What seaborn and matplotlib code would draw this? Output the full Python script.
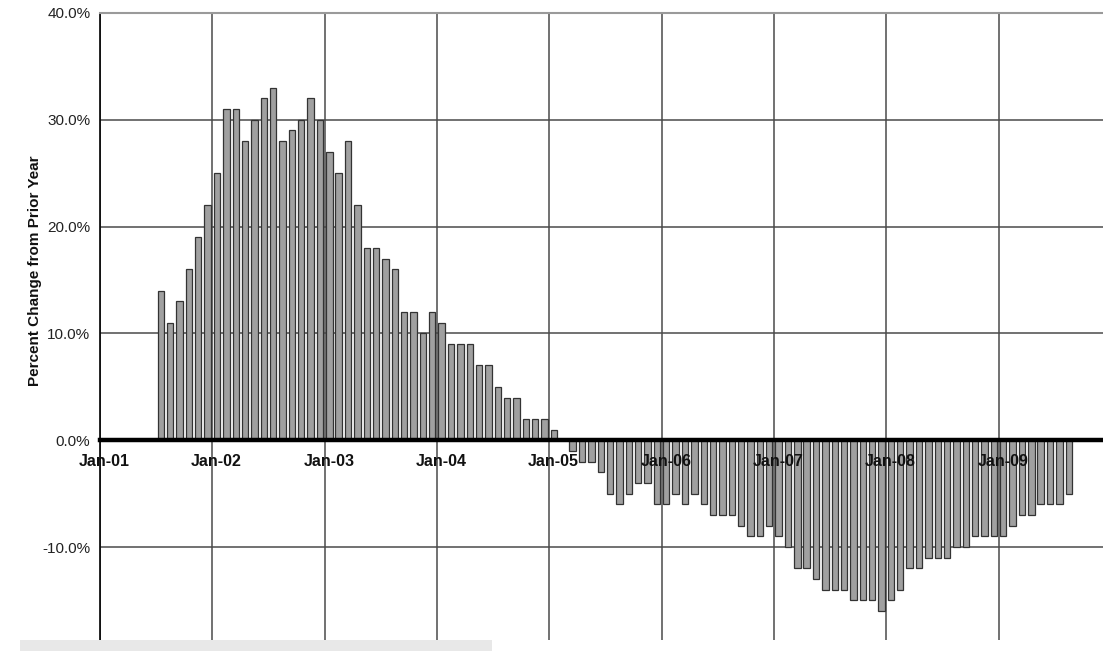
import numpy as np
import pandas as pd
import matplotlib
matplotlib.use('Agg')
import matplotlib.pyplot as plt
import matplotlib.patches as mpatches
from matplotlib.ticker import FuncFormatter
import seaborn as sns

# monthly data, Jul-01 .. Aug-09
start_month = '2001-07-01'
end_month = '2009-08-01'
pct_2001 = [14, 11, 13, 16, 19, 22]
pct_2002 = [25, 31, 31, 28, 30, 32, 33, 28, 29, 30, 32, 30]
pct_2003 = [27, 25, 28, 22, 18, 18, 17, 16, 12, 12, 10, 12]
pct_2004 = [11, 9, 9, 9, 7, 7, 5, 4, 4, 2, 2, 2]
pct_2005 = [1, 0, -1, -2, -2, -3, -5, -6, -5, -4, -4, -6]
pct_2006 = [-6, -5, -6, -5, -6, -7, -7, -7, -8, -9, -9, -8]
pct_2007 = [-9, -10, -12, -12, -13, -14, -14, -14, -15, -15, -15, -16]
pct_2008 = [-15, -14, -12, -12, -11, -11, -11, -10, -10, -9, -9, -9]
pct_2009 = [-9, -8, -7, -7, -6, -6, -6, -5]

year_labels = ['Jan-01', 'Jan-02', 'Jan-03', 'Jan-04', 'Jan-05',
               'Jan-06', 'Jan-07', 'Jan-08', 'Jan-09']
y_ticks = [-10, 0, 10, 20, 30, 40]

pct = (pct_2001 + pct_2002 + pct_2003 + pct_2004 + pct_2005 +
       pct_2006 + pct_2007 + pct_2008 + pct_2009)
months = pd.date_range(start_month, end_month, freq='MS')
df = pd.DataFrame({'month': months, 'pct': pct})
# months since Jan-01, bar sits in the middle of its month
df['pos'] = (df['month'].dt.year - 2001) * 12 + df['month'].dt.month - 1 + 0.5
year_pos = [12 * i for i in range(len(year_labels))]

sns.set_style('white')
plt.rcParams['font.family'] = ['Liberation Sans', 'DejaVu Sans']

W, H = 1103, 651
fig = plt.figure(figsize=(W / 100, H / 100), dpi=100)
ax = fig.add_axes([100 / W, (H - 640) / H, 1 - 100 / W, (640 - 13) / H])

sns.barplot(data=df, x='pos', y='pct', native_scale=True, width=0.68,
            color='#a0a0a0', saturation=1, edgecolor='#333333', linewidth=0.9,
            errorbar=None, ax=ax, zorder=3)

# category axis crosses at zero
ax.spines['bottom'].set_position(('data', 0))
ax.spines['bottom'].set_linewidth(3.2)
ax.spines['bottom'].set_color('black')
ax.spines['bottom'].set_zorder(5)
ax.spines['left'].set_color('black')
ax.spines['left'].set_linewidth(1.2)
ax.spines['top'].set_color('#9a9a9a')
ax.spines['top'].set_linewidth(1.5)
ax.spines['right'].set_visible(False)

ax.set_xlim(0, (W - 100) / 9.36)
ax.set_ylim(-18.7, 40)

ax.set_xticks(year_pos)
ax.set_yticks(y_ticks)
ax.yaxis.set_major_formatter(FuncFormatter(lambda v, p: '{:.1f}%'.format(v)))
ax.tick_params(axis='y', labelsize=11, colors='#222222', length=5, width=1,
               direction='out', pad=2)
ax.tick_params(axis='x', length=4, width=2, direction='out', labelbottom=False)

ax.grid(True, color='#4a4a4a', linewidth=1.1, zorder=0)
ax.set_axisbelow(True)

# date labels sit on top of the bars, as in the original
for p, lab in zip(year_pos, year_labels):
    ax.annotate(lab, xy=(p, 0), xytext=(3, -10), textcoords='offset points',
                ha='center', va='top', fontsize=11.5, fontweight='bold',
                color='#111111', zorder=6, annotation_clip=False)

ax.set_xlabel('')
ax.set_ylabel('')
fig.text(35 / W, 1 - 271 / H, 'Percent Change from Prior Year', rotation=90,
         ha='center', va='center', fontsize=11, fontweight='bold', color='#111111')

# light grey strip at the bottom
fig.patches.append(mpatches.Rectangle((20 / W, 0), 472 / W, 11 / H,
                                      transform=fig.transFigure,
                                      facecolor='#e8e8e8', edgecolor='none'))

fig.savefig('out.png', dpi=100)
